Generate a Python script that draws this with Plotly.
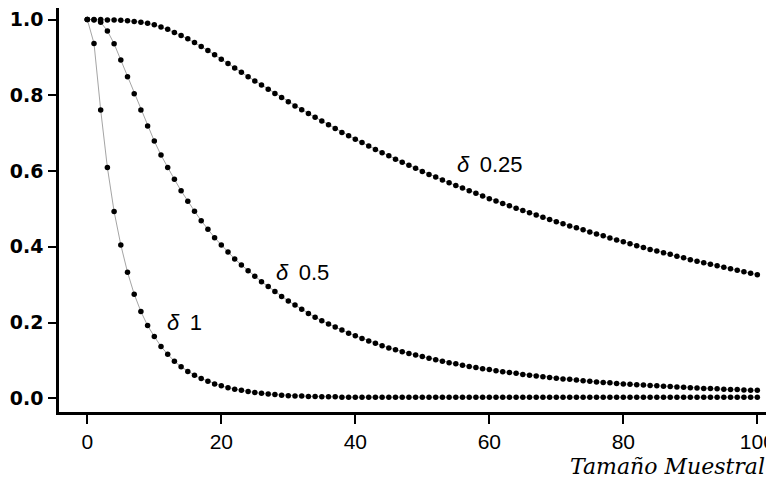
import plotly.graph_objects as go

# Sample size (x values)
n = list(range(0, 101))

# Type II error (beta), for each effect size
beta_d025 = [
    1.000, 1.000, 1.000, 0.999, 0.999, 0.998, 0.997, 0.995, 0.993, 0.990,
    0.986, 0.980, 0.974, 0.966, 0.958, 0.949, 0.939, 0.929, 0.918, 0.907,
    0.895, 0.884, 0.872, 0.861, 0.849, 0.838, 0.827, 0.816, 0.805, 0.794,
    0.783, 0.772, 0.762, 0.752, 0.742, 0.732, 0.722, 0.712, 0.702, 0.693,
    0.684, 0.675, 0.666, 0.657, 0.648, 0.640, 0.631, 0.623, 0.615, 0.607,
    0.599, 0.591, 0.584, 0.576, 0.569, 0.562, 0.555, 0.548, 0.541, 0.534,
    0.527, 0.521, 0.514, 0.508, 0.502, 0.496, 0.490, 0.484, 0.478, 0.472,
    0.466, 0.461, 0.455, 0.450, 0.445, 0.439, 0.434, 0.429, 0.423, 0.418,
    0.413, 0.408, 0.403, 0.398, 0.393, 0.389, 0.384, 0.380, 0.375, 0.371,
    0.366, 0.362, 0.358, 0.354, 0.350, 0.346, 0.342, 0.338, 0.334, 0.330,
    0.326,
]

beta_d05 = [
    1.000, 0.999, 0.993, 0.970, 0.936, 0.893, 0.849, 0.804, 0.761, 0.719,
    0.679, 0.642, 0.609, 0.578, 0.548, 0.520, 0.494, 0.469, 0.446, 0.424,
    0.405, 0.386, 0.368, 0.352, 0.337, 0.322, 0.308, 0.295, 0.282, 0.269,
    0.257, 0.246, 0.235, 0.224, 0.214, 0.205, 0.196, 0.188, 0.180, 0.172,
    0.165, 0.158, 0.151, 0.145, 0.139, 0.133, 0.128, 0.123, 0.118, 0.114,
    0.110, 0.106, 0.102, 0.098, 0.094, 0.091, 0.087, 0.084, 0.081, 0.078,
    0.076, 0.073, 0.070, 0.068, 0.066, 0.063, 0.061, 0.059, 0.057, 0.055,
    0.053, 0.051, 0.050, 0.048, 0.046, 0.045, 0.043, 0.042, 0.041, 0.039,
    0.038, 0.037, 0.036, 0.035, 0.034, 0.033, 0.032, 0.031, 0.030, 0.029,
    0.028, 0.027, 0.026, 0.026, 0.025, 0.024, 0.023, 0.023, 0.022, 0.021,
    0.021,
]

beta_d1 = [
    1.000, 0.937, 0.761, 0.609, 0.493, 0.405, 0.333, 0.275, 0.229, 0.192,
    0.163, 0.137, 0.116, 0.098, 0.083, 0.071, 0.061, 0.052, 0.045, 0.038,
    0.033, 0.028, 0.024, 0.021, 0.018, 0.015, 0.013, 0.011, 0.010, 0.008,
    0.007, 0.006, 0.006, 0.005, 0.005, 0.004, 0.004, 0.004, 0.003, 0.003,
    0.003, 0.003, 0.003, 0.003, 0.003, 0.003, 0.003, 0.003, 0.003, 0.003,
    0.003, 0.003, 0.003, 0.003, 0.003, 0.003, 0.003, 0.003, 0.003, 0.003,
    0.003, 0.003, 0.003, 0.003, 0.003, 0.003, 0.003, 0.003, 0.003, 0.003,
    0.003, 0.003, 0.003, 0.003, 0.003, 0.003, 0.003, 0.003, 0.003, 0.003,
    0.003, 0.003, 0.003, 0.003, 0.003, 0.003, 0.003, 0.003, 0.003, 0.003,
    0.003, 0.003, 0.003, 0.003, 0.003, 0.003, 0.003, 0.003, 0.003, 0.003,
    0.003,
]

series_names = ["δ 0.25", "δ 0.5", "δ 1"]
x_ticks = [0, 20, 40, 60, 80, 100]
x_tick_labels = ["0", "20", "40", "60", "80", "100"]
y_ticks = [0.0, 0.2, 0.4, 0.6, 0.8, 1.0]
y_tick_labels = ["0.0", "0.2", "0.4", "0.6", "0.8", "1.0"]
x_title = "Tamaño Muestral"

fig = go.Figure()
for name, ys in zip(series_names, [beta_d025, beta_d05, beta_d1]):
    fig.add_trace(go.Scatter(
        x=n, y=ys, name=name, mode="lines+markers",
        line=dict(color="#666666", width=0.6),
        marker=dict(color="black", size=5.5, line=dict(width=0)),
        showlegend=False, cliponaxis=False,
    ))

label_font = dict(family="Liberation Sans, Arial, sans-serif", size=22, color="black")
labels = [
    ("<i>δ</i>\u00a0\u20090.25", 54.9, 0.616),
    ("<i>δ</i>\u00a0\u20090.5", 27.9, 0.333),
    ("<i>δ</i>\u00a0\u20091", 11.6, 0.199),
]
for txt, xx, yy in labels:
    fig.add_annotation(x=xx, y=yy, xref="x", yref="y", text=txt, showarrow=False,
                       xanchor="left", yanchor="middle", font=label_font)

fig.add_annotation(x=0.990, y=-0.136, xref="paper", yref="paper", text="<i>" + x_title + "</i>",
                   showarrow=False, xanchor="right", yanchor="middle",
                   font=dict(family="DejaVu Serif, serif", size=22, color="black"))

fig.update_layout(
    width=766, height=475,
    margin=dict(l=51, r=0, t=0, b=71, autoexpand=False),
    paper_bgcolor="white", plot_bgcolor="white",
    xaxis=dict(range=[-4.224, 102.49], tickvals=x_ticks, ticktext=x_tick_labels,
               showgrid=False, zeroline=False, showline=True, linecolor="black", linewidth=2.5,
               ticks="outside", ticklen=9, tickwidth=1.8, tickcolor="black",
               ticklabeloverflow="allow",
               tickfont=dict(family="Liberation Sans, Arial, sans-serif", size=21, color="black")),
    yaxis=dict(range=[-0.0362, 1.0304], tickvals=y_ticks, ticktext=y_tick_labels,
               showgrid=False, zeroline=False, showline=True, linecolor="black", linewidth=2.5,
               ticks="outside", ticklen=8, tickwidth=1.8, tickcolor="black",
               ticklabelstandoff=1,
               tickfont=dict(family="DejaVu Sans, sans-serif", size=19, color="black",
                             weight="bold")),
)

fig.write_html("out.html")
